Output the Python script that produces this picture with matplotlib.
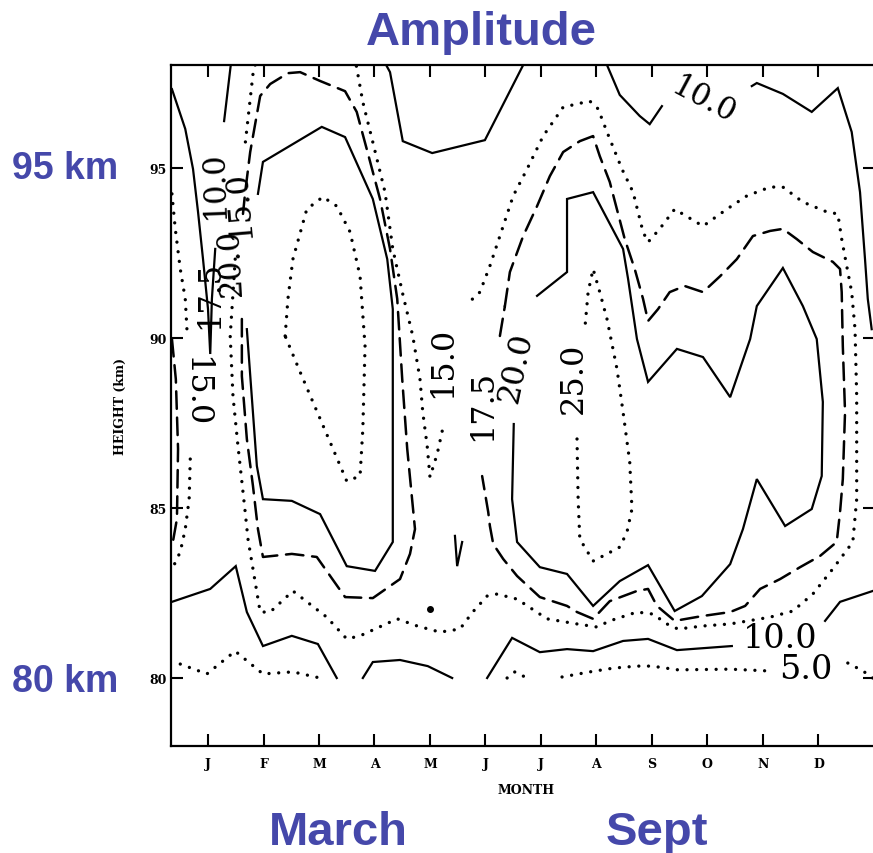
import numpy as np
import matplotlib
matplotlib.use("Agg")
import matplotlib.pyplot as plt

nan = np.nan

month_pos = list(range(1, 13))
month_labels = ["J", "F", "M", "A", "M", "J", "J", "A", "S", "O", "N", "D"]
height_ticks = [80, 85, 90, 95]
levels = [5.0, 10.0, 15.0, 17.5, 20.0, 25.0]

# contour traces: month (1 = Jan) and height (km); nan = label gap
c5_left_m = [0.50, 0.98, 1.49, 1.99, 2.53, 3.02]
c5_left_h = [80.41, 80.12, 80.79, 80.12, 80.18, 80.0]
c5_mid_m = [6.39, 6.53, 6.75]
c5_mid_h = [80.0, 80.18, 80.0]
c5_right_m = [7.38, 7.88, 8.30, 8.73, 9.00, 9.47, 10.41, 11.07, nan, 12.53, 12.80, 12.98]
c5_right_h = [80.03, 80.18, 80.29, 80.35, 80.35, 80.24, 80.26, 80.21, nan, 80.44, 80.21, 80.0]

c10_tongue_m = [1.41, 1.29, nan, 1.13, 1.07, 1.04, 1.00, 0.91, 0.82, 0.73, 0.59, 0.35]
c10_tongue_h = [98.03, 96.38, nan, 92.62, 91.15, 89.53, 90.85, 92.32, 93.71, 94.97, 96.15, 97.32]
c10_botleft_m = [0.35, 1.04, 1.50, 1.70, 1.99, 2.51, 2.98, 3.32]
c10_botleft_h = [82.24, 82.62, 83.29, 81.94, 80.94, 81.24, 81.0, 80.0]
c10_aprmay_m = [3.79, 3.97, 4.46, 4.96, 5.40]
c10_aprmay_h = [80.0, 80.47, 80.53, 80.35, 80.0]
c10_botright_m = [6.03, 6.48, 6.98, 7.47, 7.94, 8.48, 8.93, 9.45, 10.44, nan, 12.12, 12.39, 12.98]
c10_botright_h = [80.0, 81.18, 80.76, 80.85, 80.79, 81.09, 81.15, 80.82, 80.94, nan, 81.68, 82.24, 82.56]
c10_topmid_m = [4.21, 4.28, 4.51, 5.04, 5.99, 6.68]
c10_topmid_h = [98.03, 97.82, 95.79, 95.44, 95.82, 98.03]
c10_topright_m = [8.19, 8.42, 8.78, 8.96, 9.18, nan, 10.80, 10.89, 11.36, 11.88, 12.35,
                  12.60, 12.75, 12.84, 12.89, 12.96]
c10_topright_h = [98.03, 97.15, 96.53, 96.29, 96.82, nan, 97.41, 97.50, 97.18, 96.65, 97.35,
                  96.06, 94.29, 92.32, 91.15, 90.26]

c15_left_m = [0.35, 0.41, 0.50, 0.59, 0.62, nan, 0.68, 0.66, 0.59, 0.50, 0.37]
c15_left_h = [94.24, 93.21, 92.03, 91.15, 90.26, nan, 86.44, 85.26, 84.38, 83.71, 83.26]
c15_main_m = [1.85, 1.81, 1.72, 1.67, nan, 1.49, 1.40, 1.45, 1.54, 1.67, 1.72, 1.85, 1.94,
              2.12, 2.53, 3.14, 3.50, 3.74, 4.41, 4.77, 5.18, 5.54, 5.77, 6.03, 6.21, 6.57,
              7.11, 7.65, 8.01, 8.24, 8.73, 9.02, 9.27, 9.47, 9.92, 10.41, 11.13, 11.54,
              11.90, 12.26, 12.62, 12.69, 12.69, 12.66, 12.60, 12.51, 12.42, 12.35, 12.15,
              11.72, 11.36, 11.13, 10.71, 10.35, 9.92, 9.41, 9.14, 8.93, 8.84, 8.66, 8.46,
              8.19, 8.03, 7.88, 7.40, 7.04, 6.75, 6.50, 6.26, 6.08, 5.90, 5.67, nan, 5.22,
              5.13, 5.00, 4.95, 4.87, 4.82, 4.69, 4.51, 4.33, 4.19, 3.97, 3.79, 3.70, 3.67]
c15_main_h = [98.03, 97.76, 96.44, 95.71, nan, 92.32, 90.06, 88.29, 86.82, 84.88, 84.09,
              82.82, 81.94, 81.94, 82.56, 81.79, 81.15, 81.24, 81.74, 81.53, 81.35, 81.44,
              81.94, 82.41, 82.47, 82.32, 81.74, 81.59, 81.50, 81.68, 81.94, 81.88, 81.59,
              81.44, 81.53, 81.59, 81.79, 81.97, 82.47, 83.21, 84.0, 85.26, 88.29, 90.26,
              91.35, 92.12, 92.91, 93.65, 93.71, 94.0, 94.44, 94.44, 94.18, 93.79, 93.29,
              93.79, 93.21, 92.82, 93.12, 94.29, 94.97, 96.06, 96.74, 96.97, 96.79, 95.94,
              94.97, 94.18, 93.0, 92.12, 91.35, 91.0, nan, 87.26, 86.59, 85.91, 86.82,
              87.82, 88.79, 90.06, 91.29, 92.62, 94.29, 95.76, 96.94, 97.76, 98.03]

c17_left_m = [0.35, 0.42, 0.46, 0.44, 0.35]
c17_left_h = [89.97, 88.79, 86.74, 84.68, 83.85]
c17_march_m = [1.61, 1.61, 1.70, 1.81, 1.90, 1.99, 2.51, 2.96, 3.47, 3.97, 4.46, 4.64, 4.73,
               4.59, 4.50, 4.41, 4.28, 4.10, 3.86, 3.68, 3.47, 3.02, 2.66, 2.44, 2.12, 1.94,
               1.76, 1.67, 1.63]
c17_march_h = [90.56, 88.88, 87.03, 85.65, 84.38, 83.56, 83.65, 83.56, 82.38, 82.35, 82.91,
               83.65, 84.38, 86.74, 88.79, 91.15, 92.62, 94.09, 95.56, 96.65, 97.26, 97.56,
               97.82, 97.79, 97.47, 97.12, 95.47, 94.29, 93.65]
c17_sept_m = [6.35, 6.44, 6.68, 6.93, 7.16, 7.40, 7.70, 7.94, 8.06, 8.24, 8.51, 8.69, 8.84,
              8.93, 9.11, 9.32, 9.59, 9.92, 10.23, 10.53, 10.82, 11.13, 11.36, 11.61, 11.90,
              12.26, 12.39, 12.42, 12.44, 12.48, 12.44, 12.39, 12.33, 12.03, 11.67, 11.31,
              10.95, 10.68, 10.41, 9.90, 9.41, 9.09, 8.93, 8.73, 8.24, 7.94, 7.65, 7.47,
              6.98, 6.57, 6.32, 6.14, 6.08, 6.05, 5.94, nan, 6.26, 6.35]
c17_sept_h = [90.94, 91.94, 93.0, 93.88, 94.76, 95.47, 95.79, 95.94, 95.35, 94.59, 92.91,
              92.03, 91.15, 90.50, 90.85, 91.35, 91.53, 91.35, 91.82, 92.32, 93.0, 93.15,
              93.21, 92.91, 92.53, 92.24, 92.03, 91.35, 89.76, 87.82, 85.85, 84.88, 84.0,
              83.59, 83.26, 82.91, 82.62, 82.12, 81.94, 81.82, 81.68, 82.12, 82.62, 82.56,
              82.26, 81.74, 81.94, 82.12, 82.38, 83.0, 83.5, 83.94, 84.47, 84.88, 85.94,
              nan, 90.06, 90.94]
c17_blip_m = [5.45, 5.49, 5.58]
c17_blip_h = [84.18, 83.29, 84.0]

c20_march_m = [1.90, 1.99, 3.05, 3.47, 3.97, 4.23, 4.33, 4.33, 4.33, 4.01, 3.50, 3.02, 2.51,
               1.99, 1.88, 1.70]
c20_march_h = [94.24, 95.18, 96.21, 95.91, 94.09, 92.32, 90.85, 85.26, 84.0, 83.15, 83.29,
               84.82, 85.21, 85.26, 86.24, 90.26]
c20_sept_m = [6.51, 6.48, 6.57, 6.98, 7.47, 7.94, 8.42, 8.93, 9.41, 9.90, 10.41, 10.64,
              10.89, 11.40, 11.88, 12.06, 12.08, 11.97, 11.72, 11.36, 10.89, 10.77, 10.41,
              9.92, 9.45, 8.93, 8.73, 8.57, 8.48, 7.94, 7.47, 7.47, 6.93]
c20_sept_h = [87.47, 85.26, 84.0, 83.26, 83.06, 82.12, 82.85, 83.32, 81.97, 82.41, 83.35,
              84.38, 85.85, 84.47, 84.97, 85.94, 88.12, 89.97, 90.94, 92.06, 90.94, 89.97,
              88.26, 89.44, 89.68, 88.71, 89.97, 91.74, 92.62, 94.29, 94.09, 91.94, 91.24]

c25_march_m = [2.39, 2.44, 2.53, 2.78, 3.07, 3.32, 3.56, 3.74, 3.83, 3.79, 3.74, 3.50, 3.20,
               2.89, 2.66, 2.39]
c25_march_h = [90.06, 91.15, 92.32, 93.79, 94.15, 93.88, 93.12, 91.82, 89.76, 87.32, 85.94,
               85.79, 86.94, 88.12, 89.0, 90.06]
c25_aug_m = [7.65, 7.67, 7.70, 7.94, 8.19, 8.42, 8.55, 8.64, 8.60, 8.48, 8.37, 8.19, 8.06,
             7.94, 7.85, 7.79]
c25_aug_h = [87.03, 85.26, 84.09, 83.44, 83.65, 83.85, 84.29, 84.97, 86.35, 87.82, 89.09,
             90.56, 91.35, 92.03, 91.35, 90.26]

traces = [
    (5.0, c5_left_m, c5_left_h), (5.0, c5_mid_m, c5_mid_h), (5.0, c5_right_m, c5_right_h),
    (10.0, c10_tongue_m, c10_tongue_h), (10.0, c10_botleft_m, c10_botleft_h),
    (10.0, c10_aprmay_m, c10_aprmay_h), (10.0, c10_botright_m, c10_botright_h),
    (10.0, c10_topmid_m, c10_topmid_h), (10.0, c10_topright_m, c10_topright_h),
    (15.0, c15_left_m, c15_left_h), (15.0, c15_main_m, c15_main_h),
    (17.5, c17_left_m, c17_left_h), (17.5, c17_march_m, c17_march_h),
    (17.5, c17_sept_m, c17_sept_h), (20.0, c17_blip_m, c17_blip_h),
    (20.0, c20_march_m, c20_march_h), (20.0, c20_sept_m, c20_sept_h),
    (25.0, c25_march_m, c25_march_h), (25.0, c25_aug_m, c25_aug_h),
]

DOT = (0, (0.01, 2.9))
DASH = (0, (7, 3.5))
styles = {5.0: DOT, 10.0: "-", 15.0: DOT, 17.5: DASH, 20.0: "-", 25.0: DOT}
widths = {5.0: 2.4, 10.0: 1.6, 15.0: 2.4, 17.5: 1.8, 20.0: 1.6, 25.0: 2.4}

BLUE = "#4548aa"

fig = plt.figure(figsize=(8.73, 8.54), dpi=100)
ax = fig.add_axes([171 / 873, 107 / 854, 704 / 873, 681 / 854])

for lev, xs, ys in traces:
    ax.plot(xs, ys, color="black", lw=widths[lev], linestyle=styles[lev],
            dash_capstyle="round", solid_joinstyle="miter")

ax.plot([5.0], [82.03], "o", color="black", ms=4)

# contour labels
serif = "DejaVu Serif"
lab = [
    (levels[1], 1.11, 94.53, 92, 22),
    (levels[2], 1.56, 93.94, 95, 22),
    (levels[3], 1.04, 91.30, 90, 22),
    (levels[4], 1.41, 92.26, 93, 22),
    (levels[2], 0.78, 88.44, -90, 23),
    (levels[2], 5.22, 89.32, 90, 23),
    (levels[3], 5.95, 88.06, 90, 23),
    (levels[4], 6.55, 89.18, 78, 23),
    (levels[5], 7.58, 88.85, 90, 23),
    (levels[1], 9.92, 97.03, -28, 22),
    (levels[1], 11.32, 81.17, 0, 24),
    (levels[0], 11.78, 80.26, 0, 24),
]
for lev, x, y, rot, fs in lab:
    ax.text(x, y, f"{lev:.1f}", rotation=rot, fontsize=fs, family=serif,
            ha="center", va="center", rotation_mode="anchor")

ax.set_xlim(0.333, 13.02)
ax.set_ylim(78.0, 98.03)
ax.set_xticks(month_pos)
ax.set_xticklabels(month_labels)
ax.set_yticks(height_ticks)
ax.tick_params(direction="in", length=8.5, width=1.5, top=True, right=True,
               labelsize=9)
ax.tick_params(axis="x", pad=8)
ax.tick_params(axis="y", pad=3)
for t in ax.get_xticklabels() + ax.get_yticklabels():
    t.set_fontweight("bold")
    t.set_family(serif)
for s in ax.spines.values():
    s.set_linewidth(1.6)

ax.set_xlabel("MONTH", fontsize=9, fontweight="bold", family=serif)
ax.set_ylabel("HEIGHT (km)", fontsize=9, fontweight="bold", family=serif)
ax.xaxis.set_label_coords(0.504, -0.055)
ax.yaxis.set_label_coords(-0.062, 0.5)

font = "Liberation Sans"
fig.text(0.551, 0.947, "Amplitude", fontsize=34, fontweight="bold", color=BLUE,
         family=font, ha="center", va="baseline")
fig.text(0.0137, 0.790, "95 km", fontsize=27, fontweight="bold", color=BLUE,
         family=font, ha="left", va="baseline")
fig.text(0.0137, 0.190, "80 km", fontsize=27, fontweight="bold", color=BLUE,
         family=font, ha="left", va="baseline")
fig.text(0.388, 0.0105, "March", fontsize=34, fontweight="bold", color=BLUE,
         family=font, ha="center", va="baseline")
fig.text(0.753, 0.0105, "Sept", fontsize=34, fontweight="bold", color=BLUE,
         family=font, ha="center", va="baseline")

fig.savefig("out.png", dpi=100, facecolor="white")
